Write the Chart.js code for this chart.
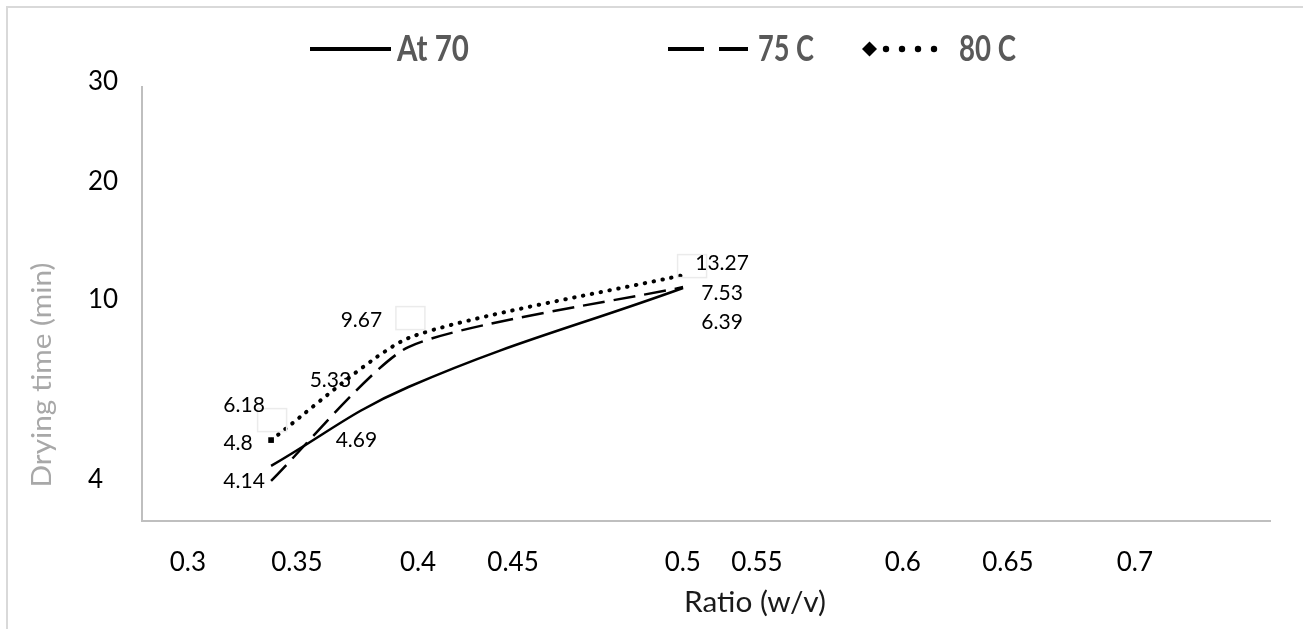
<!DOCTYPE html>
<html>
<head>
<meta charset="utf-8">
<script src="https://cdn.jsdelivr.net/npm/chart.js@4/dist/chart.umd.min.js"></script>
<style>
html,body{margin:0;padding:0;background:#fff;}
#wrap{width:1303px;height:629px;position:relative;}
</style>
</head>
<body>
<div id="wrap"><canvas id="c"></canvas></div>
<script>
// ---- data ----
const ratios = [0.35, 0.4, 0.5];
const seriesNames = ['At 70', '75 C', '80 C'];
const at70 = [4.47, 7.1, 10.4];
const c75 = [3.97, 8.43, 10.43];
const c80 = [5.33, 8.73, 10.83];
const labels70 = ['4.8', '4.69', '6.39'];
const labels75 = ['4.14', '5.33', '7.53'];
const labels80 = ['6.18', '9.67', '13.27'];
const xTickLabels = ['0.3', '0.35', '0.4', '0.45', '0.5', '0.55', '0.6', '0.65', '0.7'];
const yTickLabels = ['4', '10', '20', '30'];
const xTitle = 'Ratio (w/v)';
const yTitle = 'Drying time (min)';

// ---- axis placement of the (irregularly placed) tick labels ----
const xTickPlace = [0.3197, 0.3594, 0.4035, 0.4381, 0.4999, 0.5269, 0.5800, 0.6183, 0.6645];
const yTickPlace = [4, 10, 13.93, 17.27];

Chart.defaults.font.family = 'Lato, "Open Sans", sans-serif';

const seriesValues = [at70, c75, c80];
const seriesLabels = [labels70, labels75, labels80];

const labelOffsets = [
  [[-33, -23], [-52, 53], [39, 34]],
  [[-27, 0], [-78, 33], [39, 6]],
  [[-27, -35], [-47, -18], [39, -12]]
];
const boxOffsets = [[1, -20], [2, -20], [9, -9]];

function fitText(ctx, text, x, y, target, align, rot) {
  ctx.save();
  ctx.translate(x, y);
  if (rot) ctx.rotate(rot);
  const w = ctx.measureText(text).width;
  ctx.scale(target / w, 1);
  ctx.textAlign = align || 'center';
  ctx.textBaseline = 'middle';
  ctx.fillText(text, 0, 0);
  ctx.restore();
}

const overlay = {
  id: 'overlay',
  beforeDraw(chart) {
    const ctx = chart.ctx;
    ctx.save();
    ctx.strokeStyle = '#d9d9d9';
    ctx.lineWidth = 2;
    ctx.strokeRect(7, 7, 1500, 900);
    ctx.restore();
  },
  afterDatasetsDraw(chart) {
    const ctx = chart.ctx;
    ctx.save();
    const m80 = chart.getDatasetMeta(2);
    ctx.strokeStyle = '#ebebeb';
    ctx.lineWidth = 1.5;
    m80.data.forEach((pt, i) => {
      const [dx, dy] = boxOffsets[i];
      ctx.strokeRect(pt.x + dx - 14.5, pt.y + dy - 11.5, 29, 23);
    });
    ctx.fillStyle = '#000';
    ctx.font = '21px Lato';
    ctx.textAlign = 'center';
    ctx.textBaseline = 'middle';
    seriesLabels.forEach((arr, s) => {
      const meta = chart.getDatasetMeta(s);
      arr.forEach((txt, i) => {
        const pt = meta.data[i];
        const [dx, dy] = labelOffsets[s][i];
        ctx.fillText(txt, pt.x + dx, pt.y + dy);
      });
    });
    ctx.restore();
  },
  afterDraw(chart) {
    const ctx = chart.ctx;
    ctx.save();
    const ly = 49;
    ctx.strokeStyle = '#000';
    ctx.lineWidth = 4;
    ctx.lineCap = 'butt';
    ctx.beginPath(); ctx.moveTo(310, ly); ctx.lineTo(391, ly); ctx.stroke();
    ctx.beginPath(); ctx.moveTo(668, ly); ctx.lineTo(704, ly); ctx.moveTo(719, ly); ctx.lineTo(748, ly); ctx.stroke();
    ctx.fillStyle = '#000';
    ctx.beginPath();
    ctx.moveTo(862, ly); ctx.lineTo(869.5, ly - 7.5); ctx.lineTo(877, ly); ctx.lineTo(869.5, ly + 7.5); ctx.closePath(); ctx.fill();
    [886, 902, 918, 934].forEach(cx => { ctx.beginPath(); ctx.arc(cx, ly, 3.2, 0, Math.PI * 2); ctx.fill(); });
    ctx.fillStyle = '#595959';
    ctx.font = 'bold 36px Lato';
    fitText(ctx, seriesNames[0], 397, ly, 72, 'left');
    fitText(ctx, seriesNames[1], 758, ly, 56, 'left');
    fitText(ctx, seriesNames[2], 959, ly, 57, 'left');
    ctx.fillStyle = '#1a1a1a';
    ctx.font = '28px Lato';
    fitText(ctx, xTitle, 755, 603, 142, 'center');
    ctx.fillStyle = '#a8a8a8';
    ctx.font = '26px Lato';
    fitText(ctx, yTitle, 43, 375, 225, 'center', -Math.PI / 2);
    ctx.restore();
  }
};

const dsStyles = [
  { borderWidth: 2.5, tension: 0.4, borderDash: [], pointRadius: 0 },
  { borderWidth: 2.5, tension: 0.2, borderDash: [22, 9], pointRadius: 0 },
  { borderWidth: 4, tension: 0.2, borderDash: [0.5, 8.5], borderCapStyle: 'round', pointRadius: [4, 0, 0], pointStyle: 'rect' }
];

const datasets = seriesNames.map((name, s) => Object.assign({
  label: name,
  data: ratios.map((r, i) => ({ x: r, y: seriesValues[s][i] })),
  borderColor: '#000',
  backgroundColor: '#000',
  pointBackgroundColor: '#000',
  pointBorderWidth: 0,
  fill: false
}, dsStyles[s]));

new Chart(document.getElementById('c'), {
  type: 'line',
  data: { datasets },
  plugins: [overlay],
  options: {
    responsive: true,
    maintainAspectRatio: false,
    animation: false,
    devicePixelRatio: 1,
    layout: { padding: { left: 88, top: 87, right: 33, bottom: 0 } },
    plugins: { legend: { display: false }, tooltip: { enabled: false } },
    scales: {
      x: {
        type: 'linear',
        min: 0.303,
        max: 0.7137,
        afterBuildTicks: s => { s.ticks = xTickPlace.map(v => ({ value: v })); },
        afterFit: s => { s.height = 108; },
        grid: { display: false, drawTicks: false },
        border: { color: '#bfbfbf', width: 2 },
        ticks: {
          autoSkip: false, maxRotation: 0, minRotation: 0,
          padding: 26,
          color: '#000',
          font: { size: 26 },
          callback: (v, i) => xTickLabels[i]
        }
      },
      y: {
        type: 'linear',
        min: 2.633,
        max: 17.1,
        afterBuildTicks: s => { s.ticks = yTickPlace.map(v => ({ value: v })); },
        afterFit: s => { s.width = 54; },
        grid: { display: false, drawTicks: false },
        border: { color: '#bfbfbf', width: 2 },
        ticks: {
          autoSkip: false,
          crossAlign: 'far',
          color: '#000',
          font: { size: 26 },
          callback: (v, i) => yTickLabels[i]
        }
      }
    }
  }
});
</script>
</body>
</html>
